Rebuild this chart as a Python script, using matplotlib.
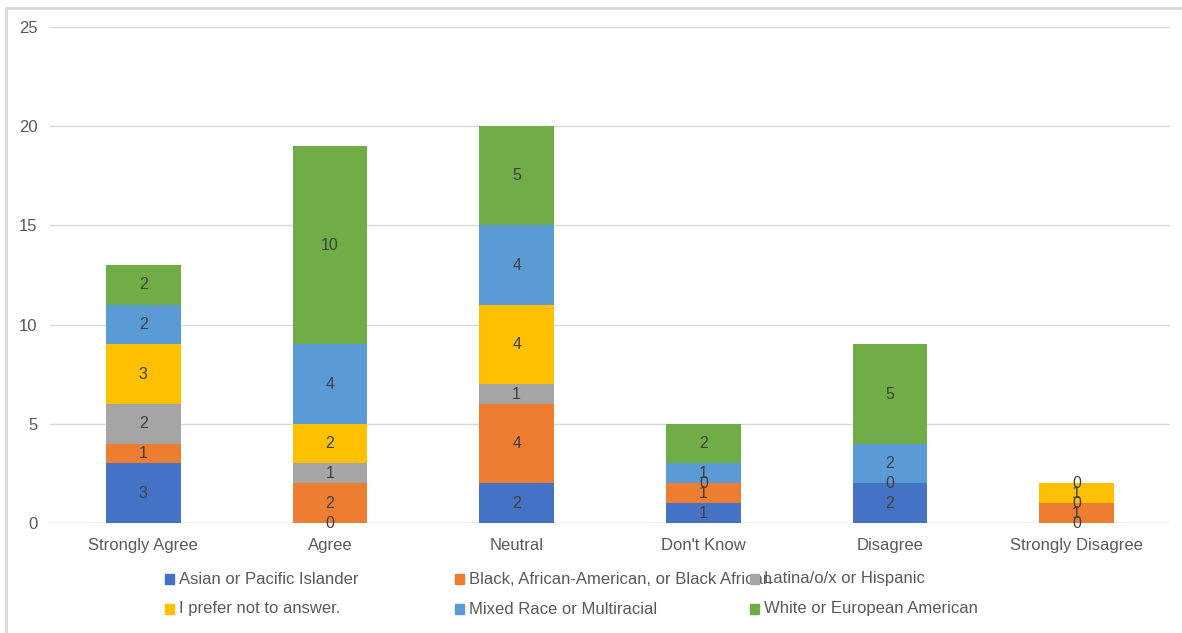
import matplotlib
matplotlib.use("Agg")
import matplotlib.pyplot as plt
from matplotlib.patches import Rectangle
import numpy as np

plt.rcParams['font.family'] = ['Liberation Sans', 'DejaVu Sans']

categories = ["Strongly Agree", "Agree", "Neutral", "Don't Know", "Disagree", "Strongly Disagree"]

# None = no response recorded for that group (no bar segment, no label)
asian = [3, 0, 2, 1, 2, 0]
black = [1, 2, 4, 1, None, 1]
latina = [2, 1, 1, 0, 0, 0]
prefer_not = [3, 2, 4, None, None, 1]
mixed = [2, 4, 4, 1, 2, 0]
white = [2, 10, 5, 2, 5, None]

series_names = ["Asian or Pacific Islander",
                "Black, African-American, or Black African",
                "Latina/o/x or Hispanic",
                "I prefer not to answer.",
                "Mixed Race or Multiracial",
                "White or European American"]
series_values = [asian, black, latina, prefer_not, mixed, white]
series_colors = ["#4472C4", "#ED7D31", "#A5A5A5", "#FFC000", "#5B9BD5", "#70AD47"]

W, H = 1182, 633
fig = plt.figure(figsize=(W / 100, H / 100), dpi=100)
ax = fig.add_axes([50 / W, 110 / H, 1120 / W, 496 / H])

x = np.arange(len(categories))
bottom = np.zeros(len(categories))
for vals, color in zip(series_values, series_colors):
    v = np.array([0 if a is None else a for a in vals], dtype=float)
    ax.bar(x, v, 0.4, bottom=bottom, color=color, zorder=3, linewidth=0)
    for i, a in enumerate(vals):
        if a is None:
            continue
        ax.text(x[i], bottom[i] + a / 2, f"{a}", ha='center', va='center',
                fontsize=11.5, color="#404040", zorder=4)
    bottom += v

ax.set_xlim(-0.5, len(categories) - 0.5)
ax.set_ylim(0, 25)
ax.set_yticks(range(0, 26, 5))
ax.yaxis.grid(True, color="#d9d9d9", linewidth=1, zorder=0)
ax.set_axisbelow(True)
for s in ax.spines.values():
    s.set_visible(False)
ax.axhline(0, color="#d0d0d0", linewidth=1, zorder=2)
ax.tick_params(axis='both', length=0, labelsize=12, colors="#595959")
ax.tick_params(axis='y', pad=9)
ax.tick_params(axis='x', pad=11)
ax.set_xticks(x)
ax.set_xticklabels(categories)

# Legend drawn as two rows of three entries
legend_x = [165, 455, 750]
legend_y = [579, 609]
for k, (name, color) in enumerate(zip(series_names, series_colors)):
    px = legend_x[k % 3]
    py = legend_y[k // 3]
    fig.patches.append(Rectangle((px / W, 1 - (py + 5) / H), 9 / W, 10 / H,
                                 transform=fig.transFigure, color=color,
                                 figure=fig, zorder=5))
    fig.text((px + 14) / W, 1 - py / H, name, ha='left', va='center',
             fontsize=12, color="#595959", zorder=4)

# Outer frame
fig.patches.append(Rectangle((6 / W, -0.01), 1.02, 1 - 8 / H + 0.01,
                             transform=fig.transFigure, fill=False,
                             edgecolor="#d9d9d9", linewidth=2, figure=fig))

fig.savefig("out.png", dpi=100, facecolor="white")
